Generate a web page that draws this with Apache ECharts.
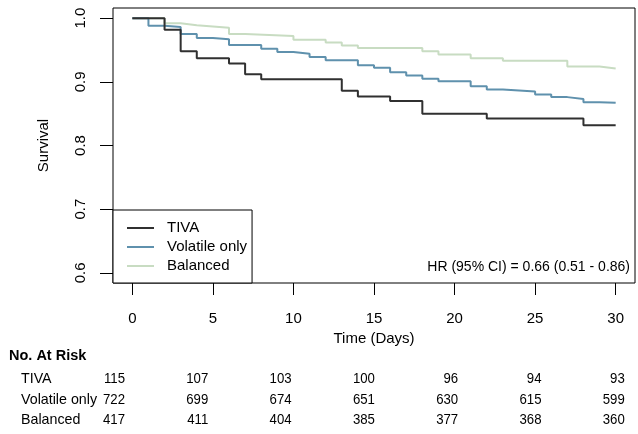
<!DOCTYPE html>
<html>
<head>
<meta charset="utf-8">
<script src="https://cdn.jsdelivr.net/npm/echarts@6/dist/echarts.min.js"></script>
<style>
html,body{margin:0;padding:0;background:#fff;}
#c{width:638px;height:434px;}
</style>
</head>
<body>
<div id="c"></div>
<script>
// ---- data ----
var seriesNames = ['TIVA', 'Volatile only', 'Balanced'];
var tivaDays   = [0, 2, 3, 4, 6, 7, 8, 13, 14, 16, 18, 22, 28, 30];
var tivaSurv   = [1.0, 0.982, 0.948, 0.937, 0.929, 0.912, 0.904, 0.886, 0.877, 0.870, 0.850, 0.8425, 0.832, 0.832];
var volDays    = [0, 1, 2, 3, 4, 5, 6, 8, 9, 10, 11, 12, 14, 15, 16, 17, 18, 19, 21, 22, 23, 25, 26, 27, 28, 29, 30];
var volSurv    = [1.0, 0.988, 0.986, 0.975, 0.969, 0.967, 0.958, 0.952, 0.947, 0.944, 0.939, 0.934, 0.926, 0.922, 0.915, 0.910, 0.905, 0.901, 0.893, 0.888, 0.885, 0.880, 0.876, 0.873, 0.868, 0.867, 0.867];
var balDays    = [0, 2, 3, 4, 5, 6, 7, 10, 12, 13, 14, 18, 19, 21, 23, 27, 29, 30];
var balSurv    = [1.0, 0.992, 0.989, 0.987, 0.985, 0.975, 0.972, 0.966, 0.962, 0.957, 0.953, 0.948, 0.943, 0.937, 0.933, 0.924, 0.921, 0.921];
var xTicks = [0, 5, 10, 15, 20, 25, 30];
var yTicks = [0.6, 0.7, 0.8, 0.9, 1.0];
var riskTitle = 'No. At Risk';
var riskTiva = [115, 107, 103, 100, 96, 94, 93];
var riskVol  = [722, 699, 674, 651, 630, 615, 599];
var riskBal  = [417, 411, 404, 385, 377, 368, 360];
var hrText = 'HR (95% CI) = 0.66 (0.51 - 0.86)';

function pairs(xs, ys){ return xs.map(function(x,i){ return [x, ys[i]]; }); }

var colors = ['#303030', '#5f91ad', '#c8dcc2'];
var FONT = '"Liberation Sans", Arial, sans-serif';

var chart = echarts.init(document.getElementById('c'), null, {renderer:'canvas'});

var riskRows = [riskTiva, riskVol, riskBal];
var graphics = [];
graphics.push({type:'text', x: 9, y: 356, style:{text: riskTitle, font: 'bold 14.5px ' + FONT, fill:'#000', textVerticalAlign:'middle'}});
var rowY = [379, 400, 420];
riskRows.forEach(function(row, r){
  graphics.push({type:'text', x: 21, y: rowY[r], scaleX: 0.95, style:{text: seriesNames[r], font:'15px ' + FONT, fill:'#000', textVerticalAlign:'middle'}});
  row.forEach(function(v, i){
    graphics.push({type:'text', x: 125 + i*83.3, y: rowY[r], scaleX: 0.88, style:{text: String(v), font:'15px ' + FONT, fill:'#000', textAlign:'right', textVerticalAlign:'middle'}});
  });
});
graphics.push({type:'text', x: 630, y: 267, style:{text: hrText, font:'14px ' + FONT, fill:'#000', textAlign:'right', textVerticalAlign:'middle'}});

var option = {
  animation: false,
  backgroundColor: '#fff',
  textStyle: {fontFamily: FONT},
  grid: {left: 113, top: 8, right: 3, bottom: 151, show: true, borderColor: '#000', borderWidth: 1, backgroundColor: 'transparent'},
  xAxis: {
    type: 'value', min: -1.2, max: 31.2,
    name: 'Time (Days)', nameLocation: 'middle', nameGap: 48, nameMoveOverlap: false,
    nameTextStyle: {fontSize: 15, color: '#000', fontFamily: FONT},
    axisLine: {show: false, onZero: false},
    splitLine: {show: false},
    axisTick: {show: true, length: 12, lineStyle: {color: '#000'}, customValues: xTicks},
    axisLabel: {fontSize: 15, color: '#000', margin: 28, customValues: xTicks, fontFamily: FONT}
  },
  yAxis: {
    type: 'value', min: 0.584, max: 1.016,
    name: 'Survival', nameLocation: 'middle', nameGap: 62, nameRotate: 90, nameMoveOverlap: false,
    nameTextStyle: {fontSize: 15, color: '#000', fontFamily: FONT},
    axisLine: {show: false, onZero: false},
    splitLine: {show: false},
    axisTick: {show: true, length: 13, lineStyle: {color: '#000'}, customValues: yTicks},
    axisLabel: {fontSize: 15, color: '#000', margin: 25, rotate: 90, customValues: yTicks, fontFamily: FONT,
      formatter: function(v){ return v.toFixed(1); }}
  },
  legend: {
    orient: 'vertical', left: 113, top: 210,
    padding: [10, 5, 9, 14],
    itemWidth: 27, itemHeight: 2, itemGap: 3,
    icon: 'rect',
    borderColor: '#000', borderWidth: 1, backgroundColor: '#fff',
    textStyle: {fontSize: 15, color: '#000', lineHeight: 16, fontFamily: FONT, padding: [0, 0, 0, 8]},
    data: seriesNames
  },
  series: [
    {name: seriesNames[0], type:'line', step:'end', showSymbol:false, symbol:'none', data: pairs(tivaDays, tivaSurv), lineStyle:{color: colors[0], width: 2}, itemStyle:{color: colors[0]}, z: 5},
    {name: seriesNames[1], type:'line', step:'end', showSymbol:false, symbol:'none', data: pairs(volDays, volSurv), lineStyle:{color: colors[1], width: 2}, itemStyle:{color: colors[1]}, z: 4},
    {name: seriesNames[2], type:'line', step:'end', showSymbol:false, symbol:'none', data: pairs(balDays, balSurv), lineStyle:{color: colors[2], width: 2}, itemStyle:{color: colors[2]}, z: 3}
  ],
  graphic: graphics
};
chart.setOption(option);
</script>
</body>
</html>
